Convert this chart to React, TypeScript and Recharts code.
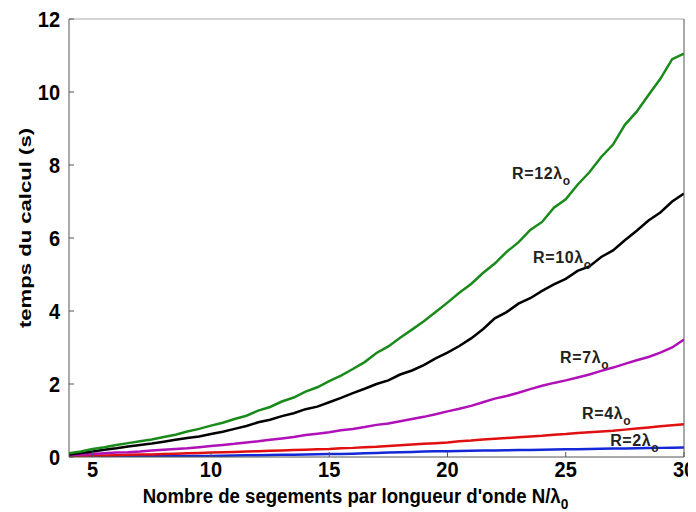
import React from "react";
import { LineChart, Line, XAxis, YAxis, ReferenceDot, Label } from "recharts";

// N/lambda0 sample points
const xs = [
  4, 4.5, 5, 5.5, 6, 6.5, 7, 7.5, 8, 8.5, 9, 9.5, 10, 10.5, 11, 11.5, 12, 12.5, 13, 13.5, 14, 14.5,
  15, 15.5, 16, 16.5, 17, 17.5, 18, 18.5, 19, 19.5, 20, 20.5, 21, 21.5, 22, 22.5, 23, 23.5, 24, 24.5,
  25, 25.5, 26, 26.5, 27, 27.5, 28, 28.5, 29, 29.5, 30,
];

// computation time (s) per radius
const r12 = [
  0.1, 0.15, 0.22, 0.27, 0.33, 0.38, 0.43, 0.48, 0.55, 0.61, 0.7, 0.77, 0.86, 0.94, 1.04, 1.13, 1.27, 1.37,
  1.52, 1.63, 1.79, 1.91, 2.08, 2.23, 2.41, 2.6, 2.85, 3.03, 3.27, 3.49, 3.72, 3.97, 4.23, 4.5, 4.74, 5.04,
  5.3, 5.62, 5.88, 6.22, 6.44, 6.83, 7.06, 7.46, 7.8, 8.22, 8.56, 9.1, 9.46, 9.92, 10.36, 10.9, 11.05,
];
const r10 = [
  0.07, 0.11, 0.15, 0.2, 0.24, 0.29, 0.33, 0.37, 0.42, 0.47, 0.52, 0.56, 0.63, 0.69, 0.77, 0.85, 0.95, 1.02,
  1.12, 1.2, 1.31, 1.38, 1.5, 1.62, 1.75, 1.87, 2.0, 2.1, 2.26, 2.37, 2.52, 2.7, 2.86, 3.04, 3.25, 3.5,
  3.8, 3.97, 4.2, 4.35, 4.55, 4.73, 4.88, 5.1, 5.22, 5.48, 5.66, 5.94, 6.2, 6.48, 6.7, 7.0, 7.22,
];
const r7 = [
  0.05, 0.07, 0.08, 0.1, 0.12, 0.13, 0.15, 0.18, 0.2, 0.22, 0.24, 0.27, 0.3, 0.33, 0.36, 0.4, 0.43, 0.47,
  0.51, 0.55, 0.6, 0.64, 0.68, 0.73, 0.77, 0.82, 0.88, 0.92, 0.98, 1.04, 1.1, 1.17, 1.25, 1.32, 1.4, 1.5,
  1.6, 1.67, 1.76, 1.86, 1.95, 2.03, 2.1, 2.18, 2.26, 2.36, 2.45, 2.55, 2.65, 2.74, 2.86, 3.0, 3.22,
];
const r4 = [
  0.02, 0.03, 0.04, 0.04, 0.05, 0.06, 0.07, 0.07, 0.08, 0.09, 0.1, 0.11, 0.12, 0.13, 0.14, 0.15, 0.16, 0.17,
  0.18, 0.19, 0.2, 0.21, 0.22, 0.24, 0.25, 0.27, 0.28, 0.3, 0.32, 0.34, 0.36, 0.38, 0.4, 0.43, 0.45, 0.48,
  0.5, 0.52, 0.54, 0.56, 0.58, 0.61, 0.63, 0.66, 0.68, 0.7, 0.72, 0.75, 0.78, 0.81, 0.84, 0.87, 0.9,
];
const r2 = [
  0.0, 0.005, 0.01, 0.01, 0.01, 0.015, 0.02, 0.02, 0.02, 0.025, 0.03, 0.03, 0.03, 0.035, 0.04, 0.045, 0.05,
  0.055, 0.06, 0.065, 0.07, 0.075, 0.08, 0.085, 0.09, 0.1, 0.11, 0.12, 0.13, 0.14, 0.15, 0.155, 0.16, 0.165,
  0.17, 0.175, 0.18, 0.185, 0.19, 0.195, 0.2, 0.205, 0.21, 0.215, 0.22, 0.225, 0.23, 0.235, 0.24, 0.245,
  0.25, 0.255, 0.26,
];

const xTicks = [5, 10, 15, 20, 25, 30];
const yTicks = [0, 2, 4, 6, 8, 10, 12];

// curve annotations: [text, x, y]
const curveLabels: [string, number, number][] = [
  ["R=12λ", 22.73, 7.78],
  ["R=10λ", 23.62, 5.48],
  ["R=7λ", 24.76, 2.74],
  ["R=4λ", 25.69, 1.21],
  ["R=2λ", 26.88, 0.47],
];

const data = xs.map((x, i) => ({ x, r12: r12[i], r10: r10[i], r7: r7[i], r4: r4[i], r2: r2[i] }));

const FONT = "'Liberation Sans', Arial, sans-serif";

function Tick(props: any) {
  const { x, y, payload, textAnchor, vertical } = props;
  return (
    <g transform={`translate(${x},${y}) scale(1,1.08)`}>
      <text
        x={0}
        y={0}
        dy={vertical ? "0.36em" : "0.71em"}
        textAnchor={textAnchor}
        fontSize={20}
        fontWeight="bold"
        fontFamily={FONT}
        fill="#000"
      >
        {payload.value}
      </text>
    </g>
  );
}

function CurveLabel(props: any) {
  const { viewBox, text } = props;
  return (
    <text x={viewBox.x} y={viewBox.y + 6} fontSize={16} letterSpacing={0.6} fontWeight="bold" fontFamily={FONT} fill="#222">
      {text}
      <tspan fontSize={12} dy={6}>o</tspan>
    </text>
  );
}

function XTitle(props: any) {
  const { viewBox } = props;
  const cx = viewBox.x + viewBox.width / 2 - 21;
  return (
    <g transform={`translate(${cx},${viewBox.y + 46}) scale(0.98,1.1)`}>
      <text x={0} y={0} textAnchor="middle" fontSize={19} fontWeight="bold" fontFamily={FONT} fill="#000">
        Nombre de segements par longueur d'onde N/λ
        <tspan fontSize={14} dy={5}>0</tspan>
      </text>
    </g>
  );
}

function YTitle() {
  return (
    <text
      transform="translate(23,220) rotate(-90) scale(1.3,1)"
      textAnchor="middle"
      fontSize={17}
      fontWeight="bold"
      fontFamily={FONT}
      fill="#000"
    >
      temps du calcul (s)
    </text>
  );
}

export default function App() {
  return (
    <div style={{ fontFamily: FONT }}>
      <LineChart width={688} height={504} data={data} margin={{ top: 10, right: 11, left: 0, bottom: 0 }}>
        <XAxis
          dataKey="x"
          type="number"
          domain={[4, 30]}
          ticks={xTicks}
          allowDataOverflow
          height={55}
          tickSize={-5}
          tickMargin={10}
          tick={<Tick />}
          stroke="#555"
        >
          <Label content={<XTitle />} />
        </XAxis>
        <XAxis
          xAxisId="top"
          orientation="top"
          dataKey="x"
          type="number"
          domain={[4, 30]}
          ticks={xTicks}
          allowDataOverflow
          height={1}
          tickSize={-5}
          tick={false}
          stroke="#aaa"
        />
        <YAxis
          type="number"
          domain={[0, 12]}
          ticks={yTicks}
          allowDataOverflow
          width={61}
          tickSize={-5}
          tickMargin={14}
          tick={<Tick vertical />}
          stroke="#555"
        >
          <Label content={<YTitle />} />
        </YAxis>
        <YAxis
          yAxisId="right"
          orientation="right"
          type="number"
          domain={[0, 12]}
          ticks={yTicks}
          allowDataOverflow
          width={1}
          tickSize={-5}
          tick={false}
          stroke="#555"
        />
        <Line type="linear" dataKey="r2" stroke="#1428d8" strokeWidth={2.5} dot={false} isAnimationActive={false} />
        <Line type="linear" dataKey="r4" stroke="#e01010" strokeWidth={2.5} dot={false} isAnimationActive={false} />
        <Line type="linear" dataKey="r7" stroke="#b010b8" strokeWidth={2.5} dot={false} isAnimationActive={false} />
        <Line type="linear" dataKey="r10" stroke="#000000" strokeWidth={2.5} dot={false} isAnimationActive={false} />
        <Line type="linear" dataKey="r12" stroke="#1a8a1a" strokeWidth={2.5} dot={false} isAnimationActive={false} />
        {curveLabels.map(([text, x, y]) => (
          <ReferenceDot key={text} x={x} y={y} r={0} stroke="none" label={<CurveLabel text={text} />} />
        ))}
      </LineChart>
    </div>
  );
}
